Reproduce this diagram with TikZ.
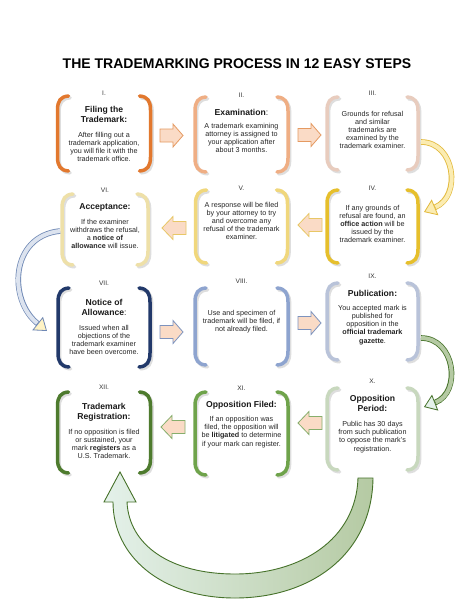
\documentclass[tikz,border=0pt]{standalone}
\usepackage{fontspec}
\setmainfont{Liberation Sans}
\usetikzlibrary{arrows.meta}
\definecolor{cI}{HTML}{E2782E}
\definecolor{cII}{HTML}{EFAE84}
\definecolor{cIII}{HTML}{E8CCBE}
\definecolor{cIV}{HTML}{E6BF2C}
\definecolor{cV}{HTML}{F0D77C}
\definecolor{cVI}{HTML}{EEE0A8}
\definecolor{cVII}{HTML}{22396A}
\definecolor{cVIII}{HTML}{8EA4CF}
\definecolor{cIX}{HTML}{B9C3D9}
\definecolor{cX}{HTML}{C8D8BE}
\definecolor{cXI}{HTML}{6FA34B}
\definecolor{cXII}{HTML}{4E7B2E}
\definecolor{peach}{HTML}{FADBC6}
\definecolor{aOr}{HTML}{E59A62}
\definecolor{aYe}{HTML}{E8C766}
\definecolor{aBl}{HTML}{7D93BE}
\definecolor{aGr}{HTML}{86AE6C}
\definecolor{yOut}{HTML}{E2B93B}
\definecolor{yFill}{HTML}{FBECB2}
\definecolor{bOut}{HTML}{6F88B5}
\definecolor{bFill}{HTML}{DCE3EF}
\definecolor{hFill}{HTML}{FFF3C4}
\definecolor{gOut}{HTML}{46722A}
\definecolor{gFill}{HTML}{B5CAA3}
\definecolor{gPale}{HTML}{E4F1EA}
\newcommand{\bpath}[4]{({#1-#4+11},{#2}) .. controls ({#1-#4+3},{#2+0.5}) and ({#1-#4},{#2+5}) .. ({#1-#4},{#2+14}) -- ({#1-#4},{#3-14}) .. controls ({#1-#4},{#3-5}) and ({#1-#4+3},{#3-0.5}) .. ({#1-#4+11},{#3})
 ({#1+#4-11},{#2}) .. controls ({#1+#4-3},{#2+0.5}) and ({#1+#4},{#2+5}) .. ({#1+#4},{#2+14}) -- ({#1+#4},{#3-14}) .. controls ({#1+#4},{#3-5}) and ({#1+#4-3},{#3-0.5}) .. ({#1+#4-11},{#3})}
\newcommand{\tmbox}[6]{%
 \coordinate (#1) at (#2,{(#3+#4)/2});
 \draw[shd] [shift={(1.6,1.8)}] \bpath{#2}{#3}{#4}{#5};
 \draw[brk, draw=#6] \bpath{#2}{#3}{#4}{#5};}
\newcommand{\rarr}[4]{\draw[blockarr, draw=#3] ({#1},{#2-6.5}) -- ({#1+13},{#2-6.5}) -- ({#1+13},{#2-11.5}) -- ({#1+23},{#2}) -- ({#1+13},{#2+11.5}) -- ({#1+13},{#2+6.5}) -- ({#1},{#2+6.5}) -- cycle;
 \coordinate (#4) at ({#1+11},{#2});}
\newcommand{\larr}[4]{\draw[blockarr, draw=#3] ({#1+24},{#2-6.5}) -- ({#1+11},{#2-6.5}) -- ({#1+11},{#2-11.5}) -- ({#1},{#2}) -- ({#1+11},{#2+11.5}) -- ({#1+11},{#2+6.5}) -- ({#1+24},{#2+6.5}) -- cycle;
 \coordinate (#4) at ({#1+12},{#2});}
\begin{document}
\begin{tikzpicture}[x=1pt,y=-1pt,
 lbl/.style={font=\fontsize{6.6}{7}\selectfont, text=black!80, inner sep=0pt},
 hd/.style={font=\fontsize{8.6}{10}\selectfont\bfseries, align=center, inner sep=0pt, text=black!90},
 bd/.style={font=\fontsize{7.2}{8.1}\selectfont, align=center, inner sep=0pt, text=black!85},
 brk/.style={line width=3.5pt, line cap=round},
 shd/.style={line width=3.5pt, line cap=round, draw=black!13},
 blockarr/.style={fill=peach, line width=0.8pt, line join=miter}]
\fill[white] (0,0) rectangle (474,613);
\useasboundingbox (0,0) rectangle (474,613);

\node[font=\fontsize{14}{16}\selectfont\bfseries, inner sep=0pt] (title) at (237,64) {THE TRADEMARKING PROCESS IN 12 EASY STEPS};

% boxes
\tmbox{bI}{104}{96}{171}{46.5}{cI}
\tmbox{bII}{241.5}{97}{172}{46.5}{cII}
\tmbox{bIII}{372.5}{97}{170}{45.5}{cIII}
\tmbox{bIV}{372.5}{190}{263}{45.5}{cIV}
\tmbox{bV}{241.5}{190}{263}{46}{cV}
\tmbox{bVI}{105}{194}{265}{43}{cVI}
\tmbox{bVII}{104}{288}{367}{46}{cVII}
\tmbox{bVIII}{241.5}{288}{365}{46.5}{cVIII}
\tmbox{bIX}{372.5}{283}{360}{45.5}{cIX}
\tmbox{bX}{372.5}{388}{470}{45.5}{cX}
\tmbox{bXI}{241.5}{392}{475}{46.5}{cXI}
\tmbox{bXII}{104}{392}{473}{46.5}{cXII}

% texts
\node[lbl] (lI) at (104,93) {I.};
\node[hd] (hI) at (104,114) {Filing the\\Trademark:};
\node[bd] (tI) at (104,147) {After filling out a\\trademark application,\\you will file it with the\\trademark office.};

\node[lbl] (lII) at (241.5,95) {II.};
\node[hd] (hII) at (241.5,112) {Examination\mdseries:};
\node[bd] (tII) at (241.5,138) {A trademark examining\\attorney is assigned to\\your application after\\about 3 months.};

\node[lbl] (lIII) at (372.5,93) {III.};
\node[bd] (tIII) at (372.5,130) {Grounds for refusal\\and similar\\trademarks are\\examined by the\\trademark examiner.};

\node[lbl] (lIV) at (372.5,188) {IV.};
\node[bd] (tIV) at (372.5,224) {If any grounds of\\refusal are found, an\\\textbf{office action} will be\\issued by the\\trademark examiner.};

\node[lbl] (lV) at (241.5,188) {V.};
\node[bd] (tV) at (241.5,221) {A response will be filed\\by your attorney to try\\and overcome any\\refusal of the trademark\\examiner.};

\node[lbl] (lVI) at (105,190) {VI.};
\node[hd] (hVI) at (105,207) {Acceptance:};
\node[bd] (tVI) at (105,234) {If the examiner\\withdraws the refusal,\\a \textbf{notice of}\\\textbf{allowance} will issue.};

\node[lbl] (lVII) at (104,283) {VII.};
\node[hd] (hVII) at (104,307) {Notice of\\Allowance\mdseries:};
\node[bd] (tVII) at (104,340) {Issued when all\\objections of the\\trademark examiner\\have been overcome.};

\node[lbl] (lVIII) at (241.5,281) {VIII.};
\node[bd] (tVIII) at (241.5,322) {Use and specimen of\\trademark will be filed, if\\not already filed.};

\node[lbl] (lIX) at (372.5,276) {IX.};
\node[hd] (hIX) at (372.5,293) {Publication:};
\node[bd] (tIX) at (372.5,325) {You accepted mark is\\published for\\opposition in the\\\textbf{official trademark}\\\textbf{gazette}.};

\node[lbl] (lX) at (372.5,381) {X.};
\node[hd] (hX) at (372.5,403.5) {Opposition\\Period:};
\node[bd] (tX) at (372.5,437) {Public has 30 days\\from such publication\\to oppose the mark's\\registration.};

\node[lbl] (lXI) at (241.5,388) {XI.};
\node[hd] (hXI) at (241.5,405) {Opposition Filed:};
\node[bd] (tXI) at (241.5,432) {If an opposition was\\filed, the opposition will\\be \textbf{litigated} to determine\\if your mark can register.};

\node[lbl] (lXII) at (104,387) {XII.};
\node[hd] (hXII) at (104,412) {Trademark\\Registration:};
\node[bd] (tXII) at (104,444) {If no opposition is filed\\or sustained, your\\mark \textbf{registers} as a\\U.S. Trademark.};

% block arrows
\rarr{160}{135.5}{aOr}{a1}
\rarr{298}{135}{aOr}{a2}
\larr{298}{225}{aYe}{a3}
\larr{162}{228}{aYe}{a4}
\rarr{160}{332}{aBl}{a5}
\rarr{298}{323}{aBl}{a6}
\larr{298}{423}{aGr}{a7}
\larr{161}{427}{aGr}{a8}

% curved arrows
\coordinate (c1s) at (421,142);
\coordinate (c1e) at (424,212);
\draw[line width=5.6pt, draw=yOut, -{Triangle[width=17pt,length=12pt,line width=0.8pt,fill=yFill]}] (c1s) .. controls (455,142) and (462,196) .. (c1e);
\draw[line width=4pt, draw=yFill, shorten >=12.5pt] (c1s) .. controls (455,142) and (462,196) .. (c1e);

\coordinate (c2s) at (60,231);
\coordinate (c2e) at (47,331);
\draw[line width=5.6pt, draw=bOut, -{Triangle[width=17pt,length=12pt,line width=0.8pt,fill=hFill]}] (c2s) .. controls (10,236) and (8,300) .. (c2e);
\draw[line width=4pt, draw=bFill, shorten >=12.5pt] (c2s) .. controls (10,236) and (8,300) .. (c2e);

\coordinate (c3s) at (421,338);
\coordinate (c3e) at (424,407);
\draw[line width=5.6pt, draw=gOut, -{Triangle[width=17pt,length=12pt,line width=0.8pt,fill=gPale]}] (c3s) .. controls (455,338) and (462,392) .. (c3e);
\draw[line width=4pt, draw=gFill, shorten >=12.5pt] (c3s) .. controls (455,338) and (462,392) .. (c3e);

% big bottom arrow
\draw[draw=gOut, line width=0.9pt, left color=gPale, right color=gFill, line join=miter]
 (358,478) -- (373,478) .. controls (372,555) and (310,598) .. (235,598) .. controls (160,598) and (113,555) .. (113,502)
 -- (104,502) -- (120,472) -- (136,502) -- (127,502)
 .. controls (129,545) and (170,574) .. (235,574) .. controls (300,574) and (356,540) .. (358,478) -- cycle;
\end{tikzpicture}
\end{document}
